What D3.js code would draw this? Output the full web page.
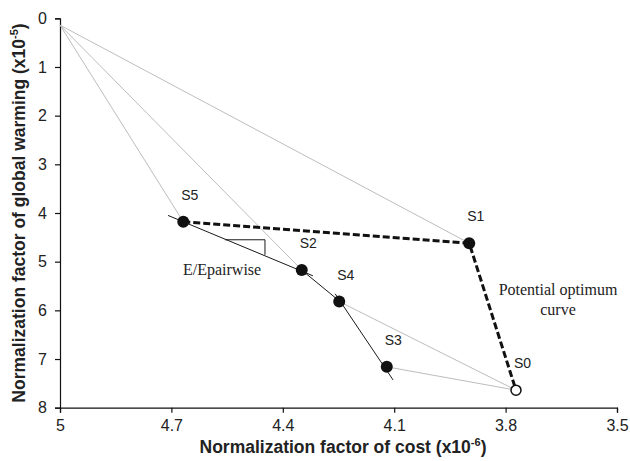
<!DOCTYPE html>
<html>
<head>
<meta charset="utf-8">
<script src="https://cdn.jsdelivr.net/npm/d3@7"></script>
<style>
  body { margin: 0; background: #fff; }
  svg { display: block; }
</style>
</head>
<body>
<svg id="chart"></svg>
<script>
const width = 630, height = 461;

// scenarios: cost factor (x1e-6) and global warming factor (x1e-5)
const names = ["S0", "S1", "S2", "S3", "S4", "S5"];
const costs = [3.772, 3.898, 4.349, 4.120, 4.248, 4.668];
const warming = [7.64, 4.62, 5.17, 7.16, 5.82, 4.18];
const origin = {x: 5, y: 0.14};

// grey construction lines, black pairwise lines, dashed optimum curve
const greyLines = [["O", "S5"], ["O", "S2"], ["O", "S1"], ["S4", "S0"], ["S3", "S0"]];
const pairLines = [
  [[4.709, 4.05], [4.319, 5.29]],
  [[4.359, 5.11], [4.238, 5.87]],
  [[4.259, 5.66], [4.103, 7.43]]
];
const optimum = ["S5", "S1", "S0"];
const slopeTri = [[4.556, 4.55], [4.448, 4.55], [4.448, 4.86]];

const xTicks = [5, 4.7, 4.4, 4.1, 3.8, 3.5];
const yTicks = [0, 1, 2, 3, 4, 5, 6, 7, 8];

const pts = names.map((n, i) => ({name: n, x: costs[i], y: warming[i]}));
const byName = {O: origin};
pts.forEach(p => byName[p.name] = p);

const svg = d3.select("#chart")
    .attr("width", width)
    .attr("height", height)
    .style("font-family", "'Liberation Sans', Arial, sans-serif");

const xScale = d3.scaleLinear().domain([5, 3.5]).range([60, 617]);
const yScale = d3.scaleLinear().domain([0, 8]).range([18.3, 407.7]);

// axes
const xAxis = svg.append("g")
    .attr("transform", `translate(0,${yScale(8)})`)
    .call(d3.axisBottom(xScale).tickValues(xTicks).tickFormat(d => String(d))
      .tickSize(5).tickPadding(7));
const yAxis = svg.append("g")
    .attr("transform", `translate(${xScale(5)},0)`)
    .call(d3.axisLeft(yScale).tickValues(yTicks).tickSize(5).tickPadding(8));

[xAxis, yAxis].forEach(a => {
  a.selectAll("path, line").attr("stroke", "#111").attr("stroke-width", 1.2);
  a.selectAll("text").attr("fill", "#222").style("font-size", "16px")
    .style("font-family", "'Liberation Sans', Arial, sans-serif");
});

// axis titles
const xt = svg.append("text")
    .attr("x", 343).attr("y", 453)
    .attr("text-anchor", "middle")
    .style("font-size", "17.5px").style("font-weight", "bold").attr("fill", "#222");
xt.append("tspan").text("Normalization factor of cost (x10");
xt.append("tspan").attr("dy", -7).style("font-size", "11px").text("-6");
xt.append("tspan").attr("dy", 7).text(")");

const yt = svg.append("text")
    .attr("transform", "translate(25,213) rotate(-90)")
    .attr("text-anchor", "middle")
    .style("font-size", "17.5px").style("font-weight", "bold").attr("fill", "#222");
yt.append("tspan").text("Normalization factor of global warming (x10");
yt.append("tspan").attr("dy", -7).style("font-size", "11px").text("-5");
yt.append("tspan").attr("dy", 7).text(")");

const line = d3.line().x(d => xScale(d.x)).y(d => yScale(d.y));

// grey lines
svg.append("g").selectAll("path")
  .data(greyLines)
  .join("path")
    .attr("d", d => line(d.map(n => byName[n])))
    .attr("fill", "none")
    .attr("stroke", "#bdbdbd")
    .attr("stroke-width", 1);

// pairwise lines
svg.append("g").selectAll("path")
  .data(pairLines)
  .join("path")
    .attr("d", d => line(d.map(p => ({x: p[0], y: p[1]}))))
    .attr("fill", "none")
    .attr("stroke", "#1a1a1a")
    .attr("stroke-width", 1);

// slope triangle
svg.append("path")
    .attr("d", line(slopeTri.map(p => ({x: p[0], y: p[1]}))))
    .attr("fill", "none")
    .attr("stroke", "#1a1a1a")
    .attr("stroke-width", 1);

// potential optimum curve
svg.append("path")
    .attr("d", line(optimum.map(n => byName[n])))
    .attr("fill", "none")
    .attr("stroke", "#111")
    .attr("stroke-width", 3)
    .attr("stroke-dasharray", "7,3");

// points
svg.append("g").selectAll("circle")
  .data(pts)
  .join("circle")
    .attr("cx", d => xScale(d.x))
    .attr("cy", d => yScale(d.y))
    .attr("r", d => d.name === "S0" ? 5 : 6)
    .attr("fill", d => d.name === "S0" ? "#fff" : "#111")
    .attr("stroke", "#111")
    .attr("stroke-width", d => d.name === "S0" ? 1.5 : 0);

// point labels
svg.append("g").selectAll("text")
  .data(pts)
  .join("text")
    .attr("x", d => xScale(d.x) - 2)
    .attr("y", d => yScale(d.y) - 22)
    .style("font-size", "14px")
    .attr("fill", "#222")
    .text(d => d.name);

// annotations
const serif = "'Liberation Serif', 'Times New Roman', serif";
svg.append("text")
    .attr("x", 183).attr("y", 275)
    .style("font-family", serif).style("font-size", "16px")
    .attr("fill", "#222")
    .text("E/Epairwise");

const ann = svg.append("text")
    .attr("text-anchor", "middle")
    .style("font-family", serif).style("font-size", "16px")
    .attr("fill", "#222");
ann.append("tspan").attr("x", 558).attr("y", 295).text("Potential optimum");
ann.append("tspan").attr("x", 558).attr("y", 315).text("curve");
</script>
</body>
</html>
